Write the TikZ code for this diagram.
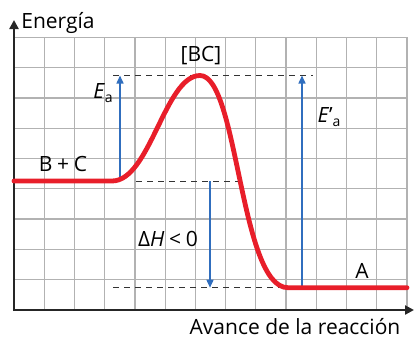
\documentclass[tikz,border=0pt]{standalone}
\usepackage{fontspec}
\setmainfont{Open Sans}
\usetikzlibrary{arrows.meta}
\definecolor{curvered}{RGB}{232,30,42}
\definecolor{arrowblue}{RGB}{48,110,190}
\definecolor{gridgray}{RGB}{178,178,178}
\newcommand{\subsc}[1]{\raisebox{-3.5pt}{\fontsize{14}{16}\selectfont #1}}
\tikzset{
  gridline/.style={draw=gridgray, line width=1.3pt},
  axisline/.style={draw=black!85, line width=2.4pt, -{Triangle[length=9pt,width=9pt]}},
  guide/.style={draw=black!80, line width=0.9pt, dash pattern=on 6pt off 5pt},
  energyarrow/.style={draw=arrowblue, line width=1.5pt, -{Triangle[length=8pt,width=7pt]}},
  curve/.style={draw=curvered, line width=4.8pt, line cap=round},
  lbl/.style={font=\fontsize{21}{25}\selectfont, inner sep=0pt},
  sublbl/.style={font=\fontsize{21}{25}\selectfont, inner sep=0pt}
}
\begin{document}
\begin{tikzpicture}[x=1pt,y=-1pt]
\useasboundingbox (0,0) rectangle (414,338);
% grid
\foreach \k in {1,...,13} {
  \draw[gridline] ({14+30.23*\k},37.3) -- ({14+30.23*\k},310);
}
\foreach \k in {1,...,9} {
  \draw[gridline] (14,{310-30.3*\k}) -- (407,{310-30.3*\k});
}
% coordinates
\coordinate (o) at (14,310);
\coordinate (ytop) at (14,20);
\coordinate (xend) at (414,310);
\coordinate (react) at (120,181);
\coordinate (peak) at (200,75.5);
\coordinate (prod) at (302,287.7);
\coordinate (dhtop) at (210,181);
\coordinate (dhbot) at (210,287.7);
\coordinate (eatop) at (120,75.5);
\coordinate (eptop) at (302,75.5);
% dashed guides
\coordinate (g1a) at (113,75.5); \coordinate (g1b) at (313,75.5);
\coordinate (g2a) at (136,181);  \coordinate (g2b) at (242,181);
\coordinate (g3a) at (113,287.7); \coordinate (g3b) at (285,287.7);
\draw[guide] (g1a) -- (g1b);
\draw[guide] (g2a) -- (g2b);
\draw[guide] (g3a) -- (g3b);
% blue arrows
\draw[energyarrow] (react) -- (eatop);
\draw[energyarrow] (prod) -- (eptop);
\draw[energyarrow] (dhtop) -- (dhbot);
% axes
\draw[axisline] ([yshift=-1.2pt]o) -- (ytop);
\draw[axisline] ([xshift=-1.2pt]o) -- (xend);
% curve
\draw[curve] (14,181) -- (112,181) .. controls (150,181) and (165,75.5) .. (peak)
  .. controls (238,75.5) and (240,287.7) .. (288,287.7) -- (407,287.7);
% labels
\node[lbl, anchor=base] (energia) at (58,28.5) {Energía};
\node[lbl, anchor=base] (avance) at (295,334) {Avance de la reacción};
\node[lbl] (bc) at (201,56) {[BC]};
\node[lbl] (reactivos) at (63,164) {B\:+\:C};
\node[lbl] (productos) at (362,271) {A};
\node[sublbl] (ea) at (103,93) {\textit{E}\subsc{a}};
\node[sublbl] (eap) at (329,117) {\textit{E}’\subsc{a}};
\node[sublbl] (dh) at (168,239) {Δ\textit{H}\:<\:0};
\end{tikzpicture}
\end{document}
